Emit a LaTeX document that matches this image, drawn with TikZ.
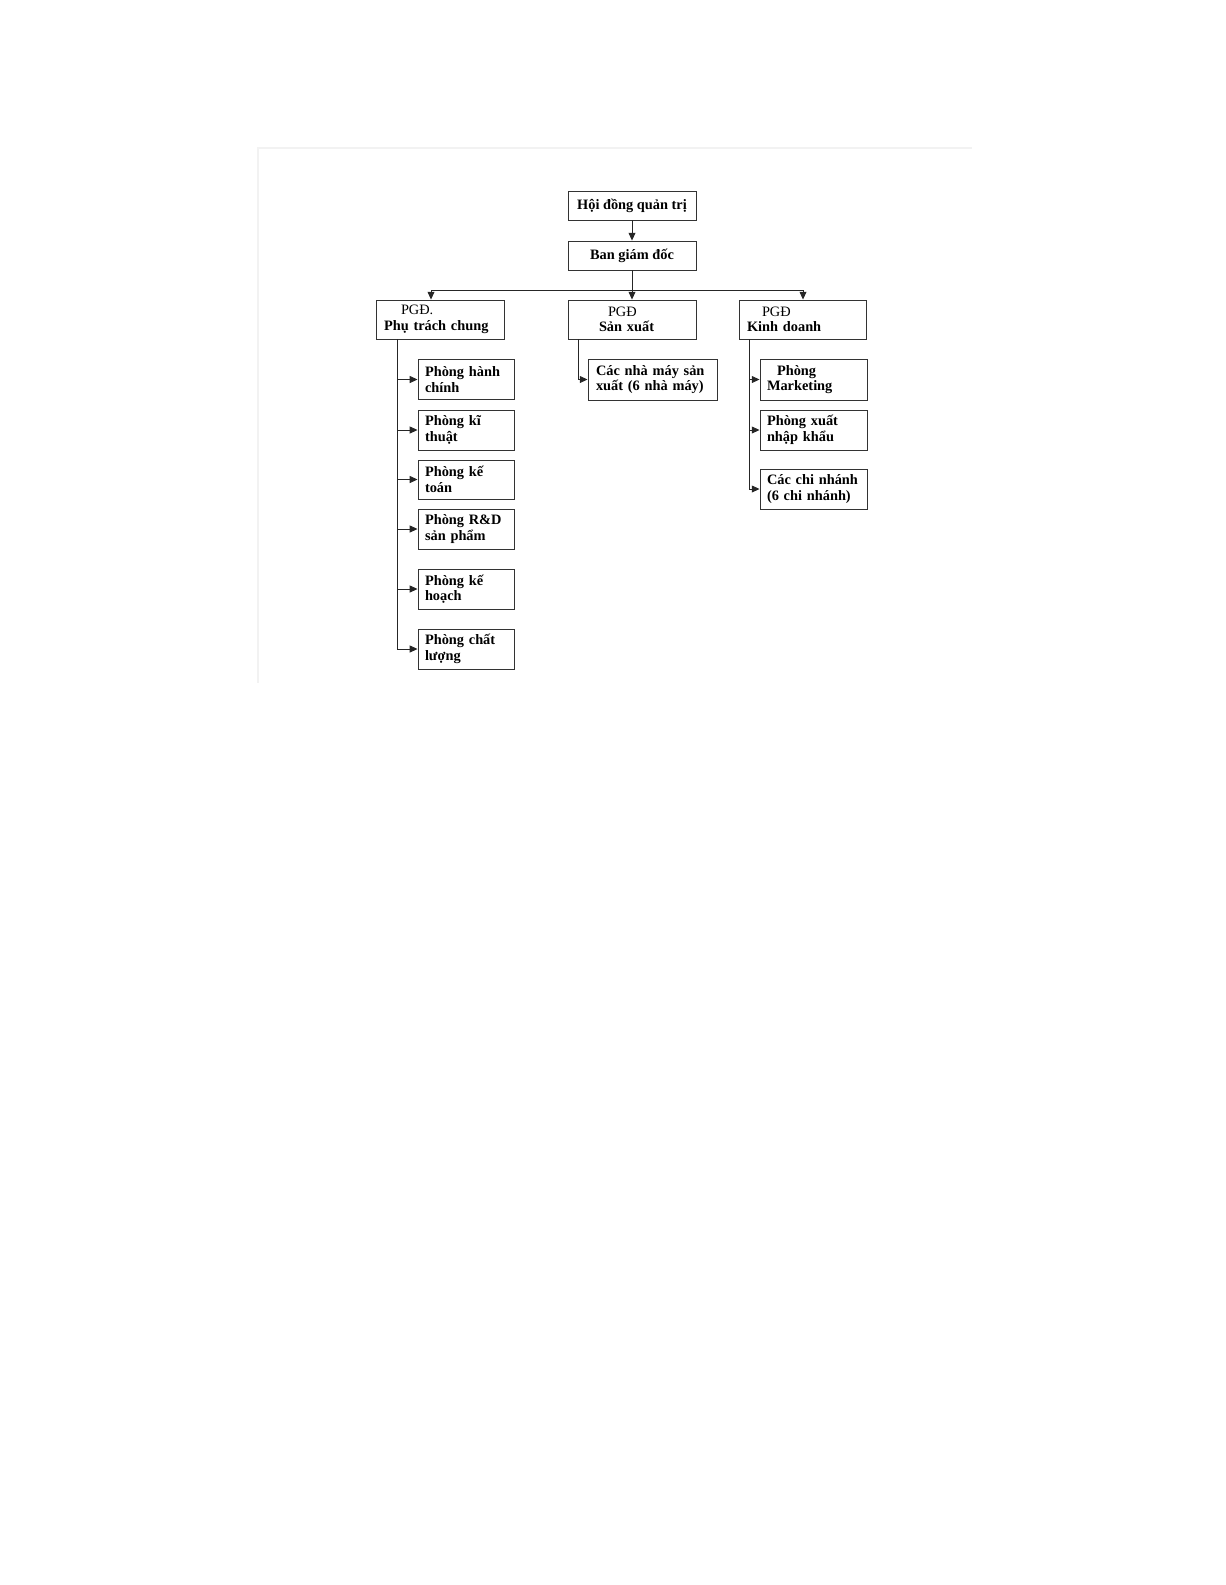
\documentclass[tikz,border=0pt]{standalone}
\usepackage{fontspec}
\setmainfont{Liberation Serif}
\usetikzlibrary{arrows.meta}
\newlength\px
\setlength\px{0.01714cm}

\tikzset{
    boite/.style={draw=black!80, line width=0.45pt, inner xsep=0pt, inner ysep=0pt,
        font=\fontsize{7}{7.6}\selectfont\bfseries, align=left},
    lien/.style={line width=0.4pt, black!85}
}

\begin{document}
\begin{tikzpicture}[x=1\px, y=-1\px, >={Triangle[length=3.8pt,width=3.4pt]}]
    \useasboundingbox (0,0) rectangle (1225,1585);

    % Cadre très pâle
    \draw[gray!10, line width=0.5pt] (258,683) -- (258,148) -- (972,148);

    % Direction
    \node[boite, minimum width=128\px, minimum height=29\px, align=center] (hdqt) at (632,205.5) {Hội đồng quản trị};
    \node[boite, minimum width=128\px, minimum height=29\px, align=center] (bgd) at (632,255.5) {Ban giám đốc};

    % Phó giám đốc
    \node[boite, minimum width=128\px, minimum height=39\px, text width=112\px] (pgd1) at (440,319.5)
        {\hspace*{17\px}{\mdseries PGĐ.}\\Phụ trách chung};
    \node[boite, minimum width=128\px, minimum height=39\px, text width=112\px] (pgd2) at (632,319.5)
        {\hspace*{32\px}{\mdseries PGĐ}\\\hspace*{23\px}Sản xuất};
    \node[boite, minimum width=127\px, minimum height=39\px, text width=111\px] (pgd3) at (802.5,319.5)
        {\hspace*{15\px}{\mdseries PGĐ}\\Kinh doanh};

    % Phòng ban (PGĐ phụ trách chung)
    \node[boite, minimum width=96\px, minimum height=40\px, text width=82\px] (hc) at (466,379.5) {Phòng hành\\chính};
    \node[boite, minimum width=96\px, minimum height=40\px, text width=82\px] (kt) at (466,430) {Phòng kĩ\\thuật};
    \node[boite, minimum width=96\px, minimum height=39\px, text width=82\px] (ktoan) at (466,479.5) {Phòng kế\\toán};
    \node[boite, minimum width=96\px, minimum height=40\px, text width=82\px] (rd) at (466,529) {Phòng R\&D\\sản phẩm};
    \node[boite, minimum width=96\px, minimum height=40\px, text width=82\px] (kh) at (466,589) {Phòng kế\\hoạch};
    \node[boite, minimum width=96\px, minimum height=40\px, text width=82\px] (cl) at (466,649) {Phòng chất\\lượng};

    % Sản xuất
    \node[boite, minimum width=129\px, minimum height=41\px, text width=113\px] (nm) at (652.5,379.5) {Các nhà máy sản\\xuất (6 nhà máy)};

    % Kinh doanh
    \node[boite, minimum width=107\px, minimum height=41\px, text width=93\px] (mkt) at (813.5,379.5) {\hspace*{10\px}Phòng\\Marketing};
    \node[boite, minimum width=107\px, minimum height=40\px, text width=93\px] (xnk) at (813.5,430) {Phòng xuất\\nhập khẩu};
    \node[boite, minimum width=107\px, minimum height=40\px, text width=93\px] (cn) at (813.5,489) {Các chi nhánh\\(6 chi nhánh)};

    % Liaisons principales
    \coordinate (bus) at (632,290);
    \coordinate (busg) at (431,290);
    \coordinate (busd) at (803,290);
    \draw[lien, ->] (hdqt) -- (bgd);
    \draw[lien] (bgd) -- (bus);
    \draw[lien] (busg) -- (busd);
    \draw[lien, ->] (busg) -- (busg |- pgd1.north);
    \draw[lien, ->] (bus) -- (pgd2);
    \draw[lien, ->] (busd) -- (busd |- pgd3.north);

    % Troncs verticaux
    \coordinate (tg) at (397,0);
    \coordinate (tm) at (578,0);
    \coordinate (td) at (749,0);
    \draw[lien] (pgd1.south -| tg) -- (tg |- cl.west);
    \foreach \p in {hc,kt,ktoan,rd,kh,cl}
        \draw[lien, ->] (tg |- \p.west) -- (\p.west);
    \draw[lien, ->] (pgd2.south -| tm) |- (nm.west);
    \draw[lien] (pgd3.south -| td) -- (td |- cn.west);
    \foreach \p in {mkt,xnk,cn}
        \draw[lien, ->] (td |- \p.west) -- (\p.west);
\end{tikzpicture}
\end{document}
